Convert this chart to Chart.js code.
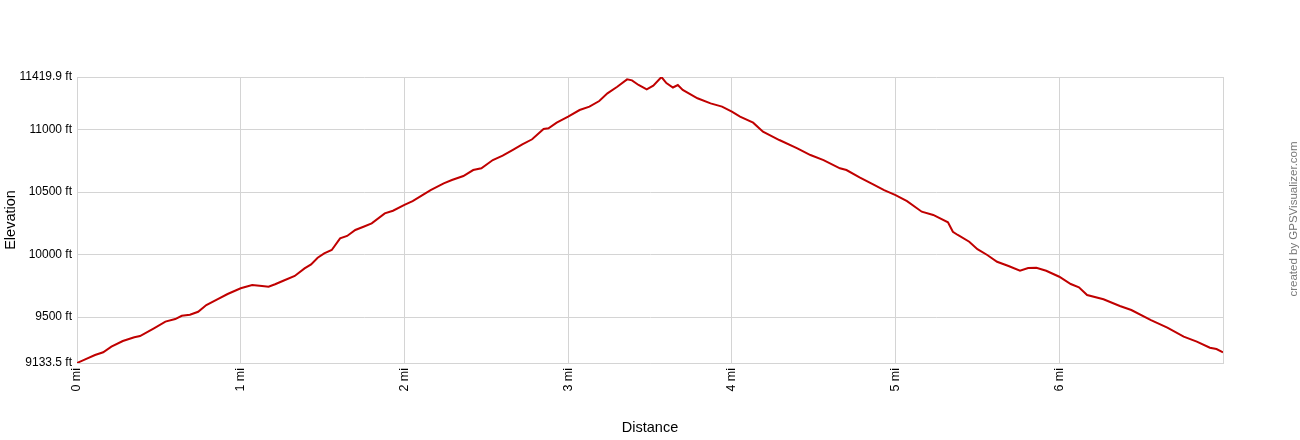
<!DOCTYPE html>
<html>
<head>
<meta charset="utf-8">
<script src="https://cdn.jsdelivr.net/npm/chart.js@4"></script>
<style>
  html, body { margin: 0; padding: 0; background: #fff; }
  #wrap { position: relative; width: 1300px; height: 440px; }
  #credit {
    position: absolute; left: 1195px; top: 211px; width: 200px; height: 16px;
    line-height: 16px; text-align: center; font: 11.5px "Liberation Sans", Arial, sans-serif;
    color: #777; transform: rotate(-90deg); transform-origin: 50% 50%; white-space: nowrap;
  }
</style>
</head>
<body>
<div id="wrap">
  <canvas id="c" width="1300" height="440"></canvas>
  <div id="credit">created by GPSVisualizer.com</div>
</div>
<script>
const distanceMi = [0.00,0.05,0.11,0.16,0.21,0.28,0.35,0.385,0.47,0.54,0.60,0.64,0.69,0.74,0.79,0.86,0.92,1.00,1.07,1.13,1.17,1.21,1.26,1.33,1.39,1.43,1.47,1.51,1.556,1.607,1.65,1.70,1.75,1.80,1.88,1.93,2.00,2.05,2.10,2.16,2.24,2.29,2.36,2.42,2.47,2.54,2.60,2.66,2.72,2.78,2.85,2.88,2.93,3.00,3.07,3.13,3.19,3.24,3.30,3.36,3.39,3.43,3.48,3.52,3.57,3.60,3.64,3.67,3.70,3.79,3.87,3.94,4.00,4.05,4.13,4.19,4.29,4.40,4.48,4.56,4.66,4.70,4.78,4.86,4.93,5.00,5.07,5.16,5.23,5.32,5.35,5.38,5.45,5.50,5.56,5.62,5.69,5.76,5.81,5.86,5.92,6.00,6.07,6.12,6.17,6.27,6.37,6.44,6.56,6.66,6.76,6.84,6.92,6.96,7.00];
const elevationFt = [9133.5,9163,9197,9219,9264,9309,9339,9349,9411,9464,9485,9511,9519,9543,9597,9645,9685,9731,9757,9749,9743,9763,9791,9829,9890,9922,9975,10010,10037,10130,10149,10197,10223,10250,10330,10351,10397,10428,10468,10516,10570,10596,10628,10676,10690,10756,10791,10836,10882,10922,11004,11010,11055,11103,11156,11183,11228,11289,11342,11401,11393,11356,11321,11350,11419.9,11371,11336,11356,11316,11250,11209,11183,11143,11103,11055,10983,10916,10850,10796,10756,10690,10676,10618,10564,10516,10476,10428,10343,10317,10258,10183,10157,10103,10043,9997,9943,9909,9871,9893,9895,9871,9823,9765,9738,9677,9643,9589,9557,9477,9416,9344,9304,9256,9245,9219];
const xTickValues = [0,1,2,3,4,5,6,7.0];
const xTickLabels = ['0 mi','1 mi','2 mi','3 mi','4 mi','5 mi','6 mi',''];
const yTickValues = [9133.5,9500,10000,10500,11000,11419.9];
const yTickLabels = ['9133.5 ft','9500 ft','10000 ft','10500 ft','11000 ft','11419.9 ft'];

const FONT = '"Liberation Sans", Arial, sans-serif';
const GRID = '#d4d4d4';

new Chart(document.getElementById('c'), {
  type: 'scatter',
  data: {
    datasets: [{
      data: distanceMi.map((d, i) => ({ x: d, y: elevationFt[i] })),
      showLine: true,
      borderColor: '#c00000',
      borderWidth: 2,
      pointRadius: 0,
      tension: 0
    }]
  },
  options: {
    responsive: false,
    animation: false,
    events: [],
    layout: { padding: { top: 77, right: 77, left: 0, bottom: 0 } },
    plugins: { legend: { display: false }, tooltip: { enabled: false } },
    scales: {
      x: {
        type: 'linear',
        min: xTickValues[0],
        max: xTickValues[xTickValues.length - 1],
        afterBuildTicks: s => { s.ticks = xTickValues.map(v => ({ value: v })); },
        afterFit: s => { s.height = 77; },
        ticks: {
          autoSkip: false, maxRotation: 90, minRotation: 90, padding: 5,
          color: '#000', font: { family: FONT, size: 12.5 },
          callback: (v, i) => xTickLabels[i]
        },
        grid: { color: GRID, lineWidth: 1, drawTicks: false },
        border: { color: GRID, width: 1 },
        title: {
          display: true, text: 'Distance', color: '#000',
          font: { family: FONT, size: 14.5 }, padding: { top: 0, bottom: 3 }
        }
      },
      y: {
        type: 'linear',
        min: yTickValues[0],
        max: yTickValues[yTickValues.length - 1],
        afterBuildTicks: s => { s.ticks = yTickValues.map(v => ({ value: v })); },
        afterFit: s => { s.width = 77; },
        ticks: {
          autoSkip: false, padding: 5, color: '#000', font: { family: FONT, size: 12 },
          callback: (v, i) => yTickLabels[i]
        },
        grid: { color: GRID, lineWidth: 1, drawTicks: false },
        border: { color: GRID, width: 1 },
        title: {
          display: true, text: 'Elevation', color: '#000',
          font: { family: FONT, size: 14.5 }, padding: { top: 2, bottom: 0 }
        }
      }
    }
  }
});
</script>
</body>
</html>
